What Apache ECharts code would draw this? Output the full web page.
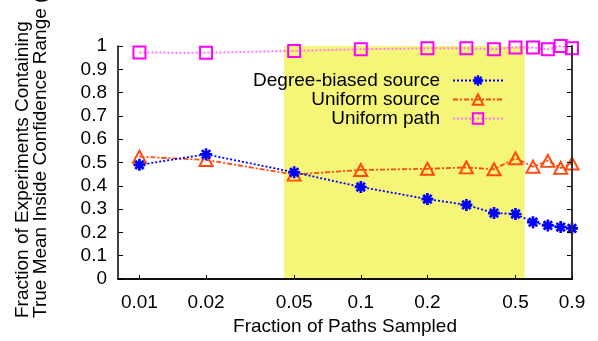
<!DOCTYPE html>
<html>
<head>
<meta charset="utf-8">
<script src="https://cdn.jsdelivr.net/npm/echarts@6/dist/echarts.min.js"></script>
<style>
  html, body { margin: 0; padding: 0; background: #fff; }
  #chart { width: 598px; height: 341px; }
</style>
</head>
<body>
<div id="chart"></div>
<script>
// fraction of paths sampled
const fractions = [0.01, 0.02, 0.05, 0.1, 0.2, 0.3, 0.4, 0.5, 0.6, 0.7, 0.8, 0.9];
const degreeBiased = [0.490, 0.535, 0.458, 0.395, 0.343, 0.318, 0.283, 0.279, 0.244, 0.230, 0.223, 0.217];
const uniformSource = [0.525, 0.511, 0.448, 0.468, 0.473, 0.479, 0.471, 0.518, 0.482, 0.507, 0.477, 0.496];
const uniformPath = [0.972, 0.971, 0.979, 0.986, 0.990, 0.990, 0.986, 0.994, 0.994, 0.986, 1.000, 0.990];
const xTicks = [0.01, 0.02, 0.05, 0.1, 0.2, 0.5, 0.9];
const highlight = [0.045, 0.55];

const font = 'Liberation Sans, Arial, sans-serif';
const fs = 19;
const asterisk = 'path://M-5 -1.1L5 -1.1L5 1.1L-5 1.1Z' +
  'M-1.1 -5L1.1 -5L1.1 5L-1.1 5Z' +
  'M-2.7 -4.3L4.3 2.7L2.7 4.3L-4.3 -2.7Z' +
  'M2.7 -4.3L4.3 -2.7L-2.7 4.3L-4.3 2.7Z';

const pairs = ys => fractions.map((x, i) => [x, ys[i]]);

const chart = echarts.init(document.getElementById('chart'), null, { renderer: 'canvas' });

chart.setOption({
  animation: false,
  backgroundColor: '#fff',
  textStyle: { fontFamily: font },
  grid: { left: 118, right: 26, top: 46, bottom: 57 },
  legend: {
    orient: 'vertical',
    align: 'right',
    right: 89,
    top: 66,
    itemWidth: 50,
    itemHeight: 13,
    itemGap: 0,
    textStyle: { fontFamily: font, fontSize: fs, lineHeight: 19, color: '#000', padding: [0, 8, 0, 0] },
    data: ['Degree-biased source', 'Uniform source', 'Uniform path']
  },
  xAxis: [
    {
      type: 'log',
      min: 0.008,
      max: 0.9,
      name: 'Fraction of Paths Sampled',
      nameLocation: 'middle',
      nameGap: 38,
      nameTextStyle: { fontFamily: font, fontSize: fs, color: '#000' },
      z: 10,
      axisLine: { lineStyle: { color: '#000', width: 1.5 } },
      axisTick: { inside: true, length: 4, customValues: xTicks, lineStyle: { color: '#000' } },
      axisLabel: {
        customValues: xTicks,
        margin: 14,
        fontSize: fs,
        color: '#000',
        formatter: v => String(v)
      },
      splitLine: { show: false }
    },
    {
      type: 'log',
      position: 'top',
      min: 0.008,
      max: 0.9,
      z: 10,
      axisLine: { lineStyle: { color: '#000', width: 1.5 } },
      axisTick: { show: false },
      axisLabel: { show: false },
      splitLine: { show: false }
    }
  ],
  yAxis: [
    {
      type: 'value',
      min: 0,
      max: 1,
      interval: 0.1,
      z: 10,
      axisLine: { show: true, lineStyle: { color: '#000', width: 1.5 } },
      axisTick: { show: true, inside: true, length: 5, lineStyle: { color: '#000' } },
      axisLabel: {
        margin: 11,
        fontSize: fs,
        color: '#000',
        formatter: v => String(Math.round(v * 10) / 10)
      },
      splitLine: { show: false }
    },
    {
      type: 'value',
      position: 'right',
      min: 0,
      max: 1,
      interval: 0.1,
      z: 10,
      axisLine: { show: true, lineStyle: { color: '#333', width: 2 } },
      axisTick: { show: true, inside: true, length: 5, lineStyle: { color: '#000' } },
      axisLabel: { show: false },
      splitLine: { show: false }
    }
  ],
  graphic: [
    {
      type: 'text',
      x: 14,
      y: 318,
      rotation: Math.PI / 2,
      style: {
        text: 'Fraction of Experiments Containing\nTrue Mean Inside Confidence Range (95%)',
        font: fs + 'px ' + font,
        fill: '#000',
        align: 'left',
        verticalAlign: 'top',
        lineHeight: 18
      }
    }
  ],
  series: [
    {
      name: 'Uniform path',
      type: 'line',
      data: pairs(uniformPath),
      symbol: 'rect',
      symbolSize: 12,
      color: '#ff00ff',
      itemStyle: { color: 'transparent', borderColor: '#ff00ff', borderWidth: 2 },
      lineStyle: { color: '#ff77ff', width: 2, type: [2, 2] },
      markArea: {
        silent: true,
        itemStyle: { color: '#f5f577' },
        data: [[{ xAxis: highlight[0] }, { xAxis: highlight[1] }]]
      },
      z: 3
    },
    {
      name: 'Uniform source',
      type: 'line',
      data: pairs(uniformSource),
      symbol: 'triangle',
      symbolSize: [13, 12],
      color: '#ff4a10',
      itemStyle: { color: 'transparent', borderColor: '#ff4a10', borderWidth: 2 },
      lineStyle: { color: '#ff4a10', width: 1.8, type: [5, 2, 2, 2] },
      z: 4
    },
    {
      name: 'Degree-biased source',
      type: 'line',
      data: pairs(degreeBiased),
      symbol: asterisk,
      symbolSize: 12,
      color: '#0000ff',
      itemStyle: { color: '#0000ff' },
      lineStyle: { color: '#0000ff', width: 1.8, type: [2, 2] },
      z: 5
    }
  ]
});
</script>
</body>
</html>
